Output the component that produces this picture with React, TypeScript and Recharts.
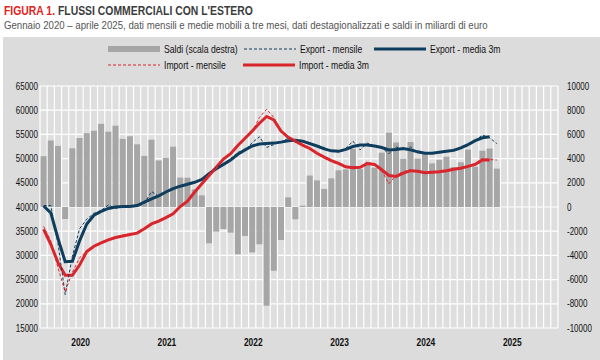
import React from "react";
import { ComposedChart, Bar, Line, XAxis, YAxis, CartesianGrid } from "recharts";

const FONT = "'Liberation Sans', Arial, sans-serif";
const NAVY = "#0f3d5e";
const RED = "#d9252c";
const GREY_BAR = "#a6a6a6";

const years = ["2020", "2021", "2022", "2023", "2024", "2025"];
const monthNums = ["01", "02", "03", "04", "05", "06", "07", "08", "09", "10", "11", "12"];
const months = years.flatMap((y) => monthNums.map((m) => `${y}-${m}`));

// saldi in milioni (scala destra)
const saldi = [
  4200, 5500, 5050, -1000, 4850, 5700, 6100, 6300, 6870, 6220, 6720, 5630,
  5850, 5180, 4220, 5560, 3850, 4050, 4980, 2430, 2420, 1460, 960, -3000,
  -2040, -1820, -2120, -3910, -2400, -3750, -3080, -8160, -5270, -2730, 800, -1020,
  110, 2600, 2200, 1490, 2370, 3030, 3110, 4800, 3130, 3470, 3250, 4490,
  6140, 5330, 4000, 5370, 4010, 4370, 3600, 3910, 4160, 3300, 3690, 4740,
  3330, 4650, 4830, 3170,
];

const exportMensile = [
  40300, 40300, 32500, 21900, 29800, 35500, 37500, 38700, 39300, 40400, 39700, 40000,
  40200, 40100, 40700, 43200, 42200, 43000, 43900, 44300, 44700, 45200, 45700, 47000,
  48200, 48900, 50000, 51300, 51700, 53300, 54500, 52300, 52900, 53400, 54200, 53500,
  53700, 53300, 52700, 52300, 51500, 51400, 52100, 53600, 51800, 53200, 52600, 52200,
  51000, 52400, 51800, 52400, 51200, 51100, 51000, 51400, 51600, 51900, 52300, 52900,
  53700, 54900, 54300, 53100,
];

const exportMedia3m = [
  40200, 38800, 33500, 28700, 28800, 33000, 36500, 38300, 39100, 39700, 40000, 40100,
  40100, 40300, 41000, 41700, 42300, 43100, 43800, 44300, 44700, 45100, 45700, 46900,
  47900, 48800, 49700, 50900, 51800, 52600, 53000, 53100, 53200, 53400, 53700, 53800,
  53600, 53100, 52600, 52000, 51600, 51500, 51900, 52500, 52800, 52800, 52600, 52300,
  51800, 51900, 52100, 51800, 51400, 51100, 51100, 51300, 51500, 51700, 52200, 52900,
  53700, 54300, 54500,
];

const importMensile = [
  36000, 33000, 27500, 22500, 26500, 29500, 30900, 31800, 32700, 33300, 33600, 34200,
  34200, 34800, 35600, 36500, 37200, 37900, 38600, 40300, 41200, 43000, 44700, 46800,
  48500, 50000, 51200, 52900, 54400, 55500, 58500, 60200, 58500, 55500, 54200, 53500,
  52600, 52000, 51000, 50100, 49400, 48800, 48100, 48400, 48100, 49400, 48600, 47500,
  44800, 46600, 47300, 47700, 47200, 47200, 47100, 47400, 47600, 47700, 48100, 48500,
  49000, 50000, 49800, 49700,
];

const importMedia3m = [
  35400, 32300, 28500, 25900, 25900, 28000, 30800, 31900, 32600, 33200, 33700, 34000,
  34300, 34600, 35500, 36500, 37100, 37800, 38600, 40100, 41200, 43100, 44800, 46500,
  48200, 49900, 51000, 52700, 54200, 55700, 57300, 58700, 58000, 55700, 54400, 53600,
  52800, 52100, 51100, 50300, 49600, 49000, 48300, 48100, 48200, 49000, 48800, 47700,
  46500, 46300, 47000, 47500, 47400, 47100, 47200, 47300, 47500, 47800, 48000, 48400,
  48800, 49700, 49700,
];

const leftTicks = [15000, 20000, 25000, 30000, 35000, 40000, 45000, 50000, 55000, 60000, 65000];
const rightTicks = [-10000, -8000, -6000, -4000, -2000, 0, 2000, 4000, 6000, 8000, 10000];

const data = months.map((m, i) => ({
  m,
  saldi: saldi[i] ?? null,
  expM: exportMensile[i] ?? null,
  exp3: exportMedia3m[i] ?? null,
  impM: importMensile[i] ?? null,
  imp3: importMedia3m[i] ?? null,
}));

// narrow-ish text: Liberation Sans squeezed horizontally (no Arial Narrow available)
const NarrowText = ({ x, y, anchor, size, bold, children }: any) => (
  <g transform={`translate(${x},${y}) scale(0.8,1)`}>
    <text x={0} y={0} dy={size * 0.35} textAnchor={anchor} fontSize={size} fontWeight={bold ? "bold" : "normal"} fill="#111" fontFamily={FONT}>
      {children}
    </text>
  </g>
);

const YearTick = ({ x, y, payload }: any) => {
  const v: string = payload.value;
  if (!v.endsWith("-06")) return null;
  return (
    <NarrowText x={x + 1} y={y + 6} anchor="middle" size={10.5} bold>
      {v.slice(0, 4)}
    </NarrowText>
  );
};

const LeftTick = ({ x, y, payload }: any) => (
  <NarrowText x={x} y={y} anchor="end" size={10}>
    {payload.value}
  </NarrowText>
);

const RightTick = ({ x, y, payload }: any) => (
  <NarrowText x={x} y={y} anchor="start" size={10}>
    {payload.value}
  </NarrowText>
);

const Swatch = ({ color, dashed, thick }: { color: string; dashed?: boolean; thick?: number }) => (
  <svg width={52} height={8} style={{ display: "block" }}>
    <line
      x1={0}
      x2={52}
      y1={4}
      y2={4}
      stroke={color}
      strokeWidth={thick ?? 1}
      strokeDasharray={dashed ? "3 2" : undefined}
    />
  </svg>
);

const LegendItem = ({ left, top, label, children }: any) => (
  <div style={{ position: "absolute", left, top, display: "flex", alignItems: "center" }}>
    {children}
    <span
      style={{
        marginLeft: 4,
        fontSize: 10.5,
        color: "#111",
        whiteSpace: "nowrap",
        display: "inline-block",
        transform: "scaleX(0.82)",
        transformOrigin: "left center",
      }}
    >
      {label}
    </span>
  </div>
);

export default function App() {
  return (
    <div style={{ position: "absolute", left: 0, top: 0, width: 600, height: 360, background: "#fff", fontFamily: FONT }}>
      <div
        style={{
          position: "absolute",
          left: 4,
          top: 3,
          fontSize: 13,
          fontWeight: "bold",
          color: "#3c3c3c",
          whiteSpace: "nowrap",
          transform: "scaleX(0.8)",
          transformOrigin: "left top",
        }}
      >
        <span style={{ color: "#e2231a" }}>FIGURA 1.</span> FLUSSI COMMERCIALI CON L'ESTERO
      </div>
      <div
        style={{
          position: "absolute",
          left: 4,
          top: 19,
          fontSize: 11,
          color: "#555",
          whiteSpace: "nowrap",
          transform: "scaleX(0.877)",
          transformOrigin: "left top",
        }}
      >
        Gennaio 2020 – aprile 2025, dati mensili e medie mobili a tre mesi, dati destagionalizzati e saldi in miliardi di euro
      </div>
      <div style={{ position: "absolute", left: 3, top: 37, width: 597, height: 323, background: "#dcdcdc" }} />

      <LegendItem left={108} top={43} label="Saldi (scala destra)">
        <Swatch color={GREY_BAR} thick={6} />
      </LegendItem>
      <LegendItem left={244} top={43} label="Export - mensile">
        <Swatch color={NAVY} dashed />
      </LegendItem>
      <LegendItem left={374} top={43} label="Export - media 3m">
        <Swatch color={NAVY} thick={3} />
      </LegendItem>
      <LegendItem left={108} top={59} label="Import - mensile">
        <Swatch color={RED} dashed />
      </LegendItem>
      <LegendItem left={243} top={59} label="Import - media 3m">
        <Swatch color={RED} thick={3} />
      </LegendItem>

      <div style={{ position: "absolute", left: 0, top: 0 }}>
        <ComposedChart
          width={600}
          height={360}
          data={data}
          barCategoryGap="8%"
          margin={{ top: 86, right: 0, bottom: 10, left: 0 }}
        >
          <CartesianGrid
            stroke="#ffffff"
            strokeWidth={1.2}
            fill="#dedede"
            horizontalValues={leftTicks}
            yAxisId="left"
            verticalCoordinatesGenerator={({ offset }: any) =>
              Array.from({ length: months.length + 1 }, (_, i) => offset.left + (i * offset.width) / months.length)
            }
          />
          <XAxis dataKey="m" interval={0} tick={<YearTick />} tickLine={false} axisLine={false} height={22} />
          <YAxis
            yAxisId="left"
            domain={[15000, 65000]}
            ticks={leftTicks}
            width={40}
            tickLine={false}
            axisLine={false}
            tickSize={0}
            tickMargin={2}
            tick={<LeftTick />}
            allowDataOverflow
          />
          <YAxis
            yAxisId="right"
            orientation="right"
            domain={[-10000, 10000]}
            ticks={rightTicks}
            width={42}
            tickLine={false}
            axisLine={false}
            tickSize={0}
            tickMargin={9}
            tick={<RightTick />}
            allowDataOverflow
          />
          <Bar yAxisId="right" dataKey="saldi" fill={GREY_BAR} isAnimationActive={false} />
          <Line yAxisId="left" dataKey="exp3" stroke={NAVY} strokeWidth={3} dot={false} isAnimationActive={false} />
          <Line yAxisId="left" dataKey="imp3" stroke={RED} strokeWidth={3} dot={false} isAnimationActive={false} />
          <Line yAxisId="left" dataKey="expM" stroke={NAVY} strokeWidth={1} strokeDasharray="3 2" dot={false} isAnimationActive={false} />
          <Line yAxisId="left" dataKey="impM" stroke={RED} strokeWidth={1} strokeDasharray="3 2" dot={false} isAnimationActive={false} />
        </ComposedChart>
      </div>
    </div>
  );
}
